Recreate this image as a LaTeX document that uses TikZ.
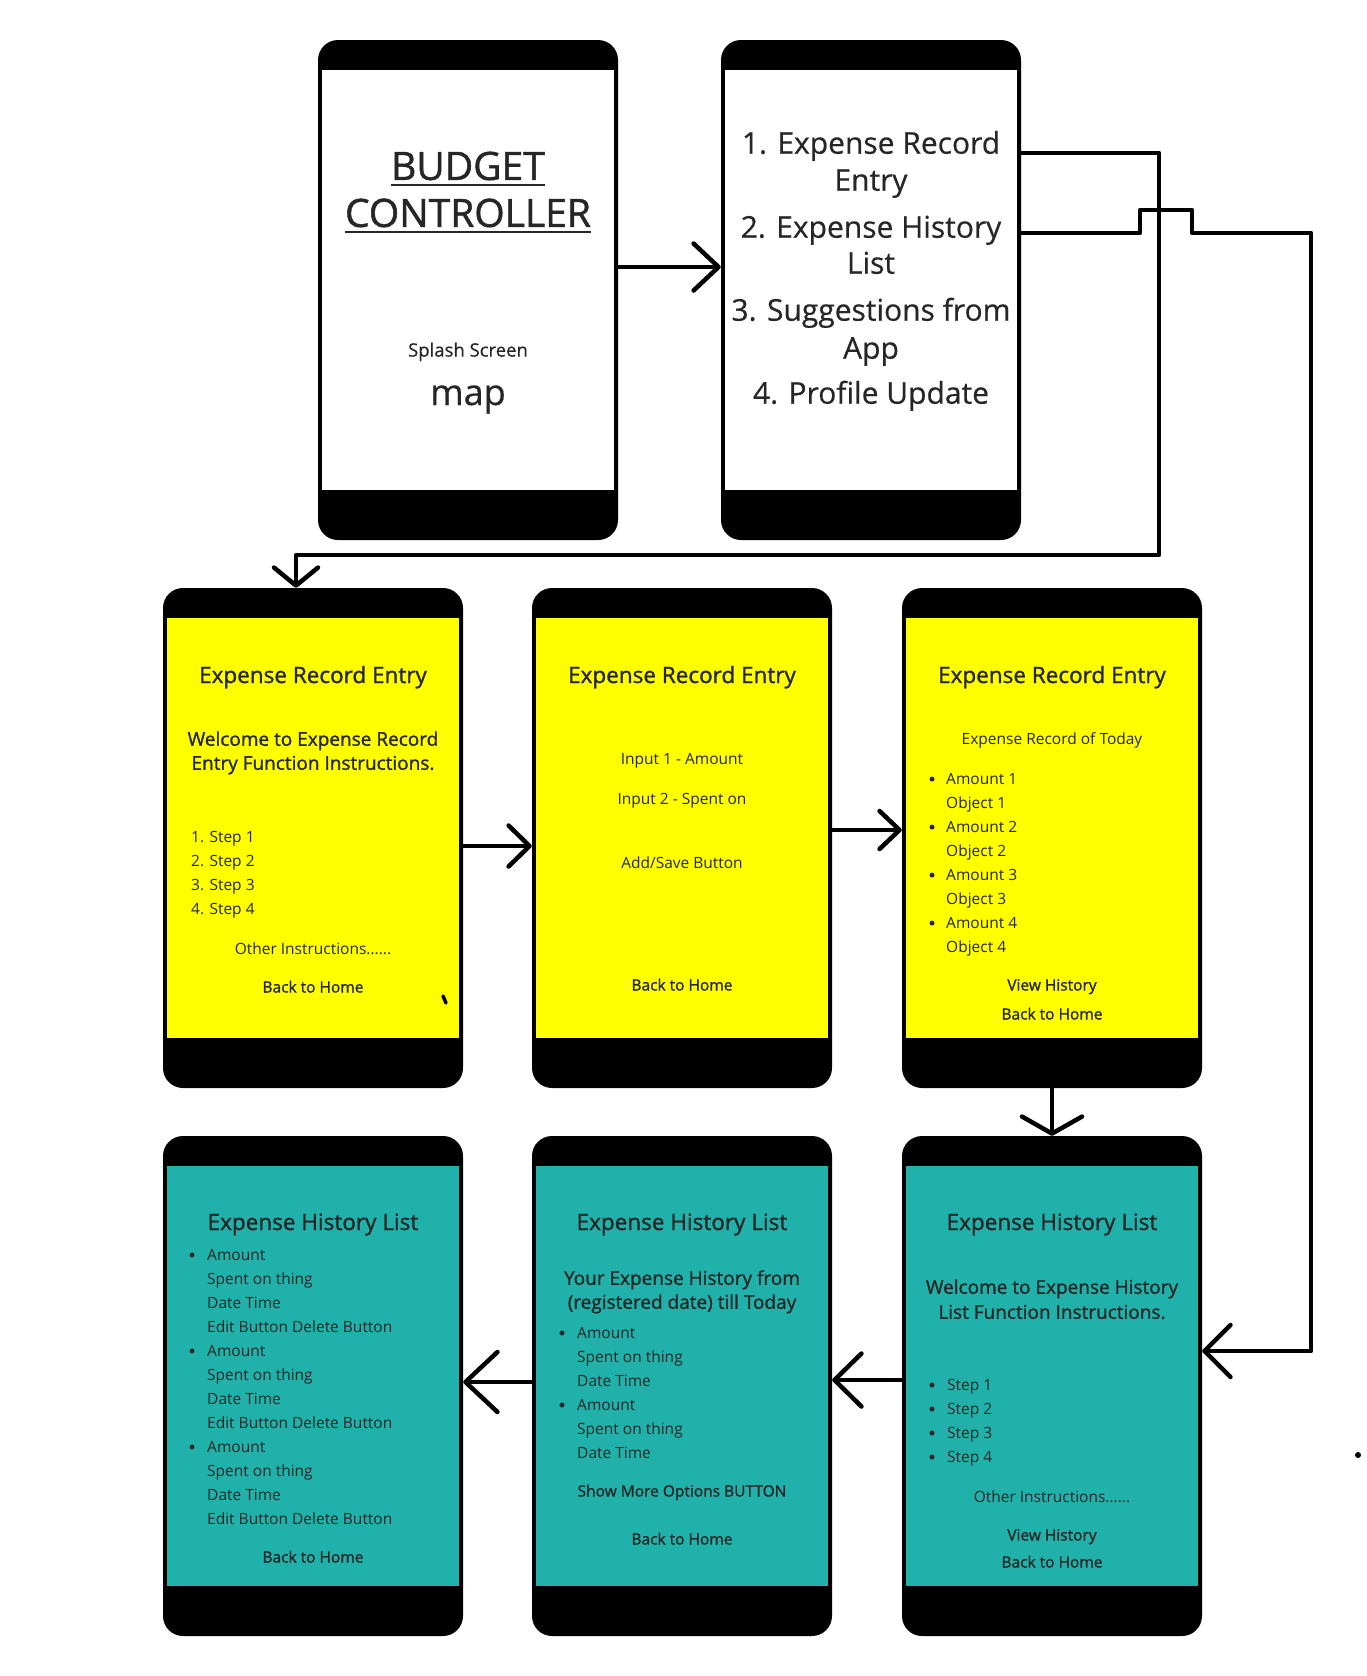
\documentclass[tikz,border=0pt]{standalone}
\usepackage{fontspec}
\setmainfont{Open Sans}
\newfontfamily\semifont[FakeBold=1.2]{Open Sans}
\newfontfamily\medfont[FakeBold=0.5]{Open Sans}
\usetikzlibrary{arrows.meta}
\usetikzlibrary{calc}

\definecolor{scryellow}{RGB}{255,255,0}
\definecolor{scrteal}{RGB}{32,178,170}
\definecolor{ink}{RGB}{38,38,38}

\tikzset{
  phone/.style={fill=black, rounded corners=20pt, minimum width=300pt, minimum height=500pt, inner sep=0pt},
  screen/.style={minimum width=292pt, minimum height=420pt, inner sep=0pt},
  wire/.style={line width=4.5pt, line cap=round, line join=round},
  flow/.style 2 args={wire, -{Straight Barb[length=#1, width=#2, line width=4.5pt, round]}},
  lbl/.style={inner sep=0pt, text=ink, anchor=base},
  body/.style={lbl, yshift=-5.5pt, font=\fontsize{15.5}{18}\selectfont},
  btn/.style={lbl, yshift=-5.5pt, font=\semifont\fontsize{15.5}{18}\selectfont},
  sub/.style={lbl, yshift=-6.8pt, font=\semifont\fontsize{19}{22}\selectfont},
  title/.style={lbl, yshift=-8pt, font=\semifont\fontsize{22.5}{26}\selectfont},
  menuitem/.style={lbl, yshift=-10.7pt, font=\medfont\fontsize{30}{34}\selectfont},
  logo/.style={lbl, yshift=-13.9pt, font=\semifont\fontsize{39}{44}\selectfont},
  uline/.style={draw=ink, line width=2.6pt},
  bullet/.style={fill=ink, circle, inner sep=0pt, minimum size=5pt},
}

\begin{document}
\begin{tikzpicture}[x=1pt,y=-1pt]
  \useasboundingbox (0,0) rectangle (1366,1676);
  \fill[white] (0,0) rectangle (1366,1676);

  % phones
  \foreach \n/\x/\y/\c in {splash/468/290/white, menu/871/290/white,
      recA/313/838/scryellow, recB/682/838/scryellow, recC/1052/838/scryellow,
      histA/313/1386/scrteal, histB/682/1386/scrteal, histC/1052/1386/scrteal}{
    \node[phone] (\n) at (\x,\y) {};
    \node[screen, fill=\c] (\n scr) at (\x,\y-10) {};
  }

  % splash screen
  \node[logo] (budget) at (468,166) {BUDGET};
  \node[logo] (controller) at (468,213) {CONTROLLER};
  \draw[uline] ([yshift=-5pt]budget.base west) -- ([yshift=-5pt]budget.base east);
  \draw[uline] ([yshift=-5pt]controller.base west) -- ([yshift=-5pt]controller.base east);
  \node[lbl, yshift=-6.6pt, font=\medfont\fontsize{18.5}{20}\selectfont] (splashlbl) at (468,350) {Splash Screen};
  \node[lbl, font=\medfont\fontsize{36}{40}\selectfont] (maplbl) at (468,405) {map};

  % home menu
  \node[menuitem] (m1) at (871,143) {1. Expense Record};
  \node[menuitem] (m1b) at (871,180) {Entry};
  \node[menuitem] (m2) at (871,227) {2. Expense History};
  \node[menuitem] (m2b) at (871,263) {List};
  \node[menuitem] (m3) at (871,310) {3. Suggestions from};
  \node[menuitem] (m3b) at (871,348) {App};
  \node[menuitem] (m4) at (871,393) {4. Profile Update};

  % expense record entry: instructions
  \node[title] (recAt) at (313,675) {Expense Record Entry};
  \node[sub] (recAw1) at (313,739) {Welcome to Expense Record};
  \node[sub] (recAw2) at (313,763) {Entry Function Instructions.};
  \foreach \i in {1,...,4}
    \node[body, anchor=base west] at (191,813+24*\i) {\i. Step \i};
  \node[body] (recAo) at (313,949) {Other Instructions......};
  \node[btn] (recAb) at (313,987) {Back to Home};

  % expense record entry: input
  \node[title] (recBt) at (682,675) {Expense Record Entry};
  \node[body] (recBi1) at (682,759) {Input 1 - Amount};
  \node[body] (recBi2) at (682,799) {Input 2 - Spent on};
  \node[body] (recBs) at (682,863) {Add/Save Button};
  \node[btn] (recBb) at (682,985) {Back to Home};

  % expense record entry: today
  \node[title] (recCt) at (1052,675) {Expense Record Entry};
  \node[body] (recCs) at (1052,739) {Expense Record of Today};
  \foreach \i in {1,...,4}{
    \node[bullet] at (932,731+48*\i) {};
    \node[body, anchor=base west] at (946,731+48*\i) {Amount \i};
    \node[body, anchor=base west] at (946,755+48*\i) {Object \i};
  }
  \node[btn] (recCv) at (1052,985) {View History};
  \node[btn] (recCb) at (1052,1014) {Back to Home};

  % expense history list: full list
  \node[title] (histAt) at (313,1222) {Expense History List};
  \foreach \g in {0,1,2}{
    \node[bullet] at (192,1255+96*\g) {};
    \node[body, anchor=base west] at (207,1255+96*\g) {Amount};
    \node[body, anchor=base west] at (207,1279+96*\g) {Spent on thing};
    \node[body, anchor=base west] at (207,1303+96*\g) {Date Time};
    \node[body, anchor=base west] at (207,1327+96*\g) {Edit Button Delete Button};
  }
  \node[btn] (histAb) at (313,1557) {Back to Home};

  % expense history list: from date
  \node[title] (histBt) at (682,1222) {Expense History List};
  \node[sub] (histBy1) at (682,1278) {Your Expense History from};
  \node[sub] (histBy2) at (682,1302) {(registered date) till Today};
  \foreach \g in {0,1}{
    \node[bullet] at (562,1333+72*\g) {};
    \node[body, anchor=base west] at (577,1333+72*\g) {Amount};
    \node[body, anchor=base west] at (577,1357+72*\g) {Spent on thing};
    \node[body, anchor=base west] at (577,1381+72*\g) {Date Time};
  }
  \node[btn] (histBm) at (682,1491) {Show More Options BUTTON};
  \node[btn] (histBb) at (682,1539) {Back to Home};

  % expense history list: instructions
  \node[title] (histCt) at (1052,1222) {Expense History List};
  \node[sub] (histCw1) at (1052,1287) {Welcome to Expense History};
  \node[sub] (histCw2) at (1052,1312) {List Function Instructions.};
  \foreach \i in {1,...,4}{
    \node[bullet] at (932,1361+24*\i) {};
    \node[body, anchor=base west] at (947,1361+24*\i) {Step \i};
  }
  \node[body] (histCo) at (1052,1497) {Other Instructions......};
  \node[btn] (histCv) at (1052,1535) {View History};
  \node[btn] (histCb) at (1052,1562) {Back to Home};

  % connectors
  \draw[flow={25pt}{47pt}] ([yshift=23pt]splash.east) -- ([yshift=23pt]menu.west);
  \draw[flow={18pt}{44pt}] ([yshift=137pt]menu.east) -| (1159,555) -| ([xshift=-17pt]recA.north);
  \draw[flow={26pt}{52pt}] ([yshift=57pt]menu.east) -- (1140,233) -- (1140,210) -- (1192,210) -- (1192,233)
    -- (1311,233) |- ([yshift=35pt]histC.east);
  \draw[flow={21pt}{41pt}] ([yshift=-8pt]recA.east) -- ([yshift=-8pt]recB.west);
  \draw[flow={20pt}{38pt}] ([yshift=8pt]recB.east) -- ([yshift=8pt]recC.west);
  \draw[flow={17pt}{60pt}] (recC.south) -- (histC.north);
  \draw[flow={27pt}{53pt}] ([yshift=6pt]histC.west) -- ([yshift=6pt]histB.east);
  \draw[flow={32pt}{60pt}] ([yshift=4pt]histB.west) -- ([yshift=4pt]histA.east);

  % stray marks
  \draw[line width=3.5pt, line cap=round] (443,996) -- (446,1003);
  \fill (1358,1455) circle (3);
\end{tikzpicture}
\end{document}
